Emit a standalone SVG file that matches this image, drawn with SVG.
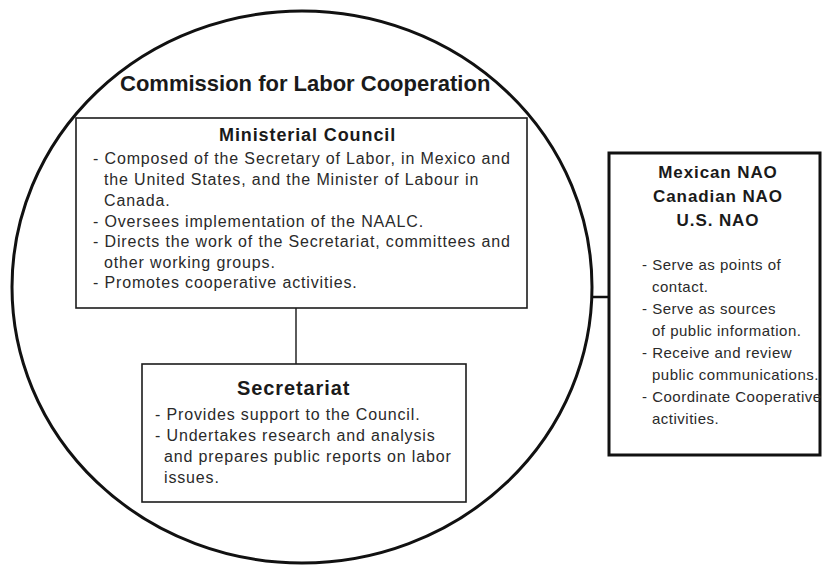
<svg xmlns="http://www.w3.org/2000/svg" width="822" height="566" viewBox="0 0 822 566">
  <style>
    .frame { fill: none; stroke: #111; stroke-width: 3; }
    .box { fill: #fff; stroke: #1c1c1c; stroke-width: 1.6; }
    .boxHeavy { fill: #fff; stroke: #111; stroke-width: 3; }
    .title { font-family: "Liberation Sans", Arial, sans-serif; font-weight: bold; font-size: 22px; fill: #1a1a1a; }
    .head { font-family: "Liberation Sans", Arial, sans-serif; font-weight: bold; fill: #1a1a1a; letter-spacing: 0.9px; }
    .body { font-family: "Liberation Sans", Arial, sans-serif; font-size: 16px; fill: #2a2a2a; letter-spacing: 0.85px; }
    .small { font-family: "Liberation Sans", Arial, sans-serif; font-size: 15px; fill: #2a2a2a; letter-spacing: 0.5px; }
    .link { stroke: #333; stroke-width: 1.6; fill: none; }
    .linkHeavy { stroke: #111; stroke-width: 2.5; fill: none; }
  </style>

  <rect width="822" height="566" fill="#fff"/>

  <!-- Commission boundary -->
  <g id="commission">
    <ellipse class="frame" cx="302" cy="287" rx="290" ry="276"/>
    <text class="title" x="120" y="91">Commission for Labor Cooperation</text>
  </g>

  <!-- Connectors -->
  <g id="connectors">
    <line class="link" x1="296" y1="308" x2="296" y2="364"/>
    <line class="linkHeavy" x1="591" y1="297" x2="609" y2="297"/>
  </g>

  <!-- Ministerial Council -->
  <g id="ministerial-council">
    <rect class="box" x="76" y="118" width="451" height="190"/>
    <text class="head" x="219" y="141" font-size="18">Ministerial Council</text>
    <text class="body" x="93" y="164">- Composed of the Secretary of Labor, in Mexico and</text>
    <text class="body" x="104" y="185">the United States, and the Minister of Labour in</text>
    <text class="body" x="104" y="206">Canada.</text>
    <text class="body" x="93" y="227">- Oversees implementation of the NAALC.</text>
    <text class="body" x="93" y="247">- Directs the work of the Secretariat, committees and</text>
    <text class="body" x="104" y="268">other working groups.</text>
    <text class="body" x="93" y="288">- Promotes cooperative activities.</text>
  </g>

  <!-- Secretariat -->
  <g id="secretariat">
    <rect class="box" x="142" y="364" width="324" height="138"/>
    <text class="head" x="237" y="395" font-size="20">Secretariat</text>
    <text class="body" x="155" y="420">- Provides support to the Council.</text>
    <text class="body" x="155" y="441">- Undertakes research and analysis</text>
    <text class="body" x="164" y="462">and prepares public reports on labor</text>
    <text class="body" x="164" y="483">issues.</text>
  </g>

  <!-- National Administrative Offices -->
  <g id="national-offices">
    <rect class="boxHeavy" x="609" y="153" width="211" height="302"/>
    <text class="head" x="718" y="178" font-size="17" text-anchor="middle">Mexican NAO</text>
    <text class="head" x="718" y="202" font-size="17" text-anchor="middle">Canadian NAO</text>
    <text class="head" x="718" y="226" font-size="17" text-anchor="middle">U.S. NAO</text>
    <text class="small" x="642" y="270">- Serve as points of</text>
    <text class="small" x="652" y="292">contact.</text>
    <text class="small" x="642" y="314">- Serve as sources</text>
    <text class="small" x="652" y="336">of public information.</text>
    <text class="small" x="642" y="358">- Receive and review</text>
    <text class="small" x="652" y="380">public communications.</text>
    <text class="small" x="642" y="402">- Coordinate Cooperative</text>
    <text class="small" x="652" y="424">activities.</text>
  </g>
</svg>
